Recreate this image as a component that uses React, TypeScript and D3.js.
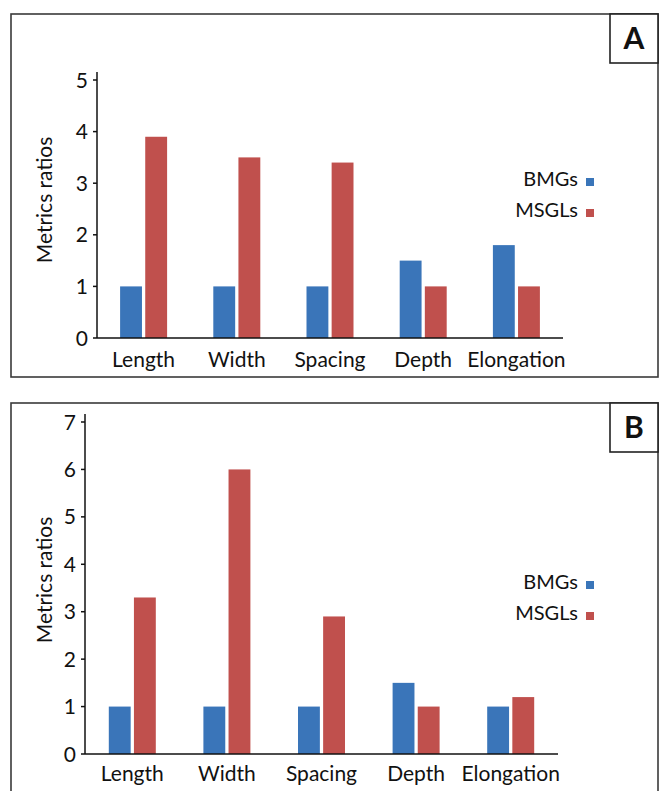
import React from "react";
import * as d3 from "d3";

const categories = ["Length", "Width", "Spacing", "Depth", "Elongation"];
const seriesNames = ["BMGs", "MSGLs"];
const bmgsA = [1, 1, 1, 1.5, 1.8];
const msglsA = [3.9, 3.5, 3.4, 1, 1];
const bmgsB = [1, 1, 1, 1.5, 1];
const msglsB = [3.3, 6, 2.9, 1, 1.2];
const ticksA = [0, 1, 2, 3, 4, 5];
const ticksB = [0, 1, 2, 3, 4, 5, 6, 7];
const panelLabels = ["A", "B"];
const yTitle = "Metrics ratios";

const COLORS = ["#3A75B9", "#C0504D"];
const FONT = "Lato, 'Open Sans', sans-serif";

type PanelProps = {
  label: string;
  bmgs: number[];
  msgls: number[];
  ticks: number[];
  frameTop: number;
  frameH: number;
  axisX: number;
  axisRight: number;
  y0: number;
  yTop: number;
  catBaseline: number;
  legendY: number;
  titleCy: number;
};

function Panel(p: PanelProps) {
  const maxV = p.ticks[p.ticks.length - 1];
  const y = d3.scaleLinear().domain([0, maxV]).range([p.y0, p.yTop]);
  const x = d3.scaleBand().domain(categories).range([p.axisX, p.axisRight]).padding(0);
  const sub = d3.scaleBand().domain(seriesNames).range([-23.5, 23.5]).paddingInner(0.13);
  const data = [p.bmgs, p.msgls];
  return (
    <g>
      <rect x={11} y={p.frameTop} width={647} height={p.frameH} fill="white" stroke="#3a3a3a" strokeWidth={1.6} />
      <rect x={610} y={p.frameTop} width={48} height={49} fill="white" stroke="#222" strokeWidth={1.6} />
      <text x={634} y={p.frameTop + 35} textAnchor="middle" fontSize={30} fontWeight="bold" fontFamily={FONT} fill="#111">
        {p.label}
      </text>
      {data.map((vals, si) =>
        vals.map((v, ci) => {
          const cx = (x(categories[ci]) as number) + x.bandwidth() / 2;
          return (
            <rect
              key={`${si}-${ci}`}
              x={cx + (sub(seriesNames[si]) as number)}
              y={y(v)}
              width={sub.bandwidth()}
              height={p.y0 - y(v)}
              fill={COLORS[si]}
            />
          );
        })
      )}
      <line x1={p.axisX} x2={p.axisX} y1={p.yTop - 8} y2={p.y0} stroke="#111" strokeWidth={1.5} />
      <line x1={p.axisX} x2={p.axisRight} y1={p.y0} y2={p.y0} stroke="#111" strokeWidth={1.5} />
      {p.ticks.map((t) => (
        <g key={t}>
          <line x1={p.axisX - 4} x2={p.axisX} y1={y(t)} y2={y(t)} stroke="#111" strokeWidth={1.5} />
          <text x={p.axisX - 9} y={y(t)} dy="0.36em" textAnchor="end" fontSize={21} fontFamily={FONT} fill="#111">
            {t}
          </text>
        </g>
      ))}
      {categories.map((c) => (
        <text
          key={c}
          x={(x(c) as number) + x.bandwidth() / 2}
          y={p.catBaseline}
          textAnchor="middle"
          fontSize={21}
          fontFamily={FONT}
          fill="#111"
        >
          {c}
        </text>
      ))}
      <text
        transform={`translate(43,${p.titleCy}) rotate(-90)`}
        textAnchor="middle"
        dominantBaseline="central"
        fontSize={21}
        fontFamily={FONT}
        fill="#111"
      >
        {yTitle}
      </text>
      {seriesNames.map((s, i) => (
        <g key={s}>
          <text x={578} y={p.legendY + i * 31} textAnchor="end" fontSize={20} fontFamily={FONT} fill="#111">
            {s}
          </text>
          <rect x={586} y={p.legendY + i * 31 - 8} width={8} height={8} fill={COLORS[i]} />
        </g>
      ))}
    </g>
  );
}

export default function App() {
  return (
    <svg width={659} height={791} style={{ position: "absolute", left: 0, top: 0, background: "white" }}>
      <rect x={0} y={0} width={659} height={791} fill="white" />
      <Panel
        label={panelLabels[0]}
        bmgs={bmgsA}
        msgls={msglsA}
        ticks={ticksA}
        frameTop={14}
        frameH={363}
        axisX={97}
        axisRight={563}
        y0={338}
        yTop={80}
        catBaseline={367}
        legendY={186}
        titleCy={200}
      />
      <Panel
        label={panelLabels[1]}
        bmgs={bmgsB}
        msgls={msglsB}
        ticks={ticksB}
        frameTop={403}
        frameH={420}
        axisX={85}
        axisRight={558}
        y0={754}
        yTop={422}
        catBaseline={781}
        legendY={589}
        titleCy={580}
      />
    </svg>
  );
}
